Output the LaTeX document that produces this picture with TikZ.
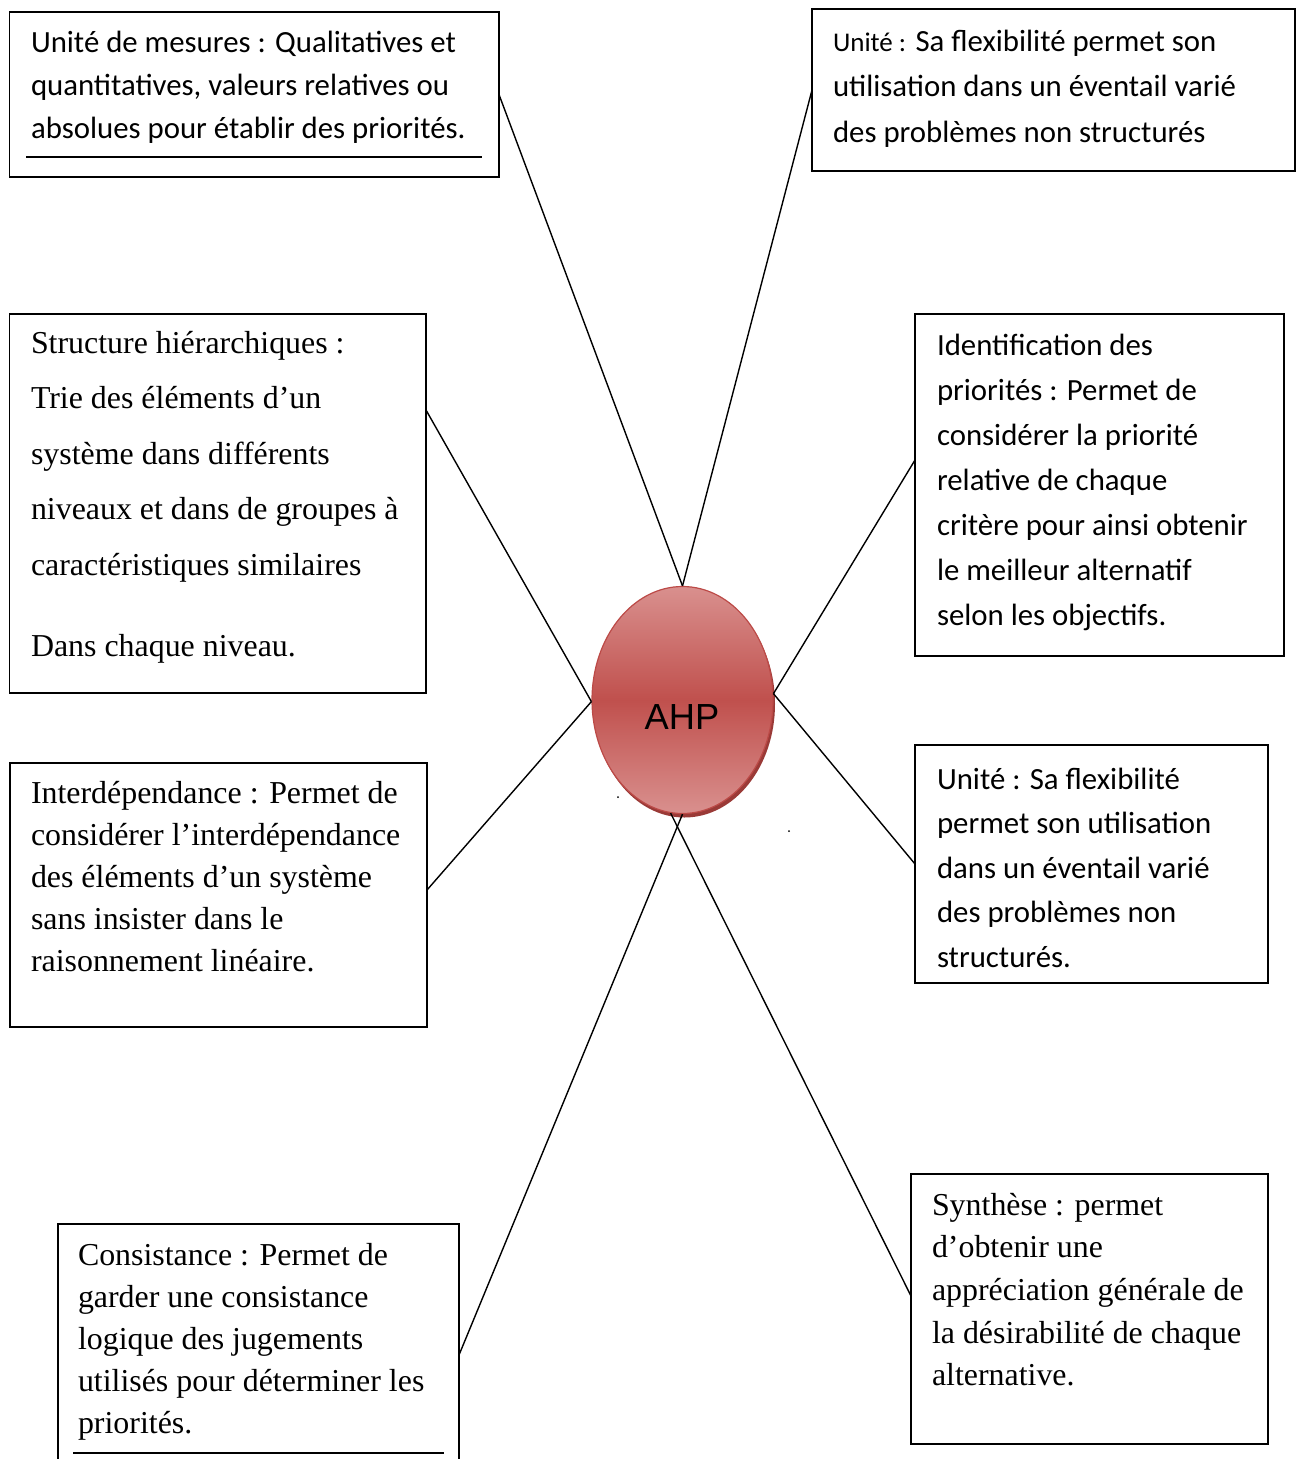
\documentclass[tikz,border=0pt]{standalone}
\usepackage{fontspec}
\setmainfont{Liberation Serif}
\newfontfamily\calib{Carlito}
\newfontfamily\arialf{Liberation Sans}
\usetikzlibrary{shapes.geometric}
\definecolor{hpTop}{HTML}{D9908E}
\definecolor{hpMid}{HTML}{C0504D}
\definecolor{hpEdge}{HTML}{BC4A47}
\definecolor{hpShadow}{HTML}{9A3A37}
\newcommand\mytext[3]{\parbox[t]{600pt}{\fontsize{30.8}{#2}\calib\selectfont\raggedright #3}}
\newcommand\mytimes[2]{\parbox[t]{600pt}{\fontsize{31.9}{#1}\selectfont\raggedright #2}}
\begin{document}
\begin{tikzpicture}[x=1pt,y=-1pt,
  box/.style={draw, line width=1.6pt, rectangle, inner sep=0pt, outer sep=0pt, anchor=north west},
  lbl/.style={inner sep=0pt, outer sep=0pt, anchor=base west},
  link/.style={line width=1.4pt},
  uline/.style={line width=1.6pt}]
\useasboundingbox (0,0) rectangle (1301,1459);
\fill[white] (0,0) rectangle (1301,1459);
\begin{scope}
\clip (0,0) rectangle (1301,1459);
% boxes
\node[box, minimum width=489.5, minimum height=165] (b1) at (9.5,12) {};
\node[box, minimum width=483, minimum height=162] (b2) at (812,9) {};
\node[box, minimum width=416.5, minimum height=379] (b3) at (9.5,314) {};
\node[box, minimum width=369, minimum height=342] (b4) at (915,314) {};
\node[box, minimum width=417, minimum height=264] (b5) at (10,763) {};
\node[box, minimum width=353, minimum height=238] (b6) at (915,745) {};
\node[box, minimum width=401, minimum height=280] (b7) at (58,1224) {};
\node[box, minimum width=357, minimum height=270] (b8) at (911,1174) {};
% texts
\node[lbl] (t1) at (31,52) {\mytext{}{43}{Unité de mesures : Qualitatives et\\quantitatives, valeurs relatives ou\\absolues pour établir des priorités.}};
\draw[uline] (26,157) -- (482,157);
\node[lbl] (t2) at (833,51) {\mytext{}{45.5}{{\fontsize{27}{45.5}\selectfont Unité :} Sa flexibilité permet son\\utilisation dans un éventail varié\\des problèmes non structurés}};
\node[lbl] (t3) at (31,353) {\mytimes{55.5}{Structure hiérarchiques :\\Trie des éléments d’un\\système dans différents\\niveaux et dans de groupes à\\caractéristiques similaires\\[25.5pt]Dans chaque niveau.}};
\node[lbl] (t4) at (937,355) {\mytext{}{45}{Identification des\\priorités : Permet de\\considérer la priorité\\relative de chaque\\critère pour ainsi obtenir\\le meilleur alternatif\\selon les objectifs.}};
\node[lbl] (t5) at (31,803) {\mytimes{42.2}{Interdépendance : Permet de\\considérer l’interdépendance\\des éléments d’un système\\sans insister dans le\\raisonnement linéaire.}};
\node[lbl] (t6) at (937,789) {\mytext{}{44.5}{Unité : Sa flexibilité\\permet son utilisation\\dans un éventail varié\\des problèmes non\\structurés.}};
\node[lbl] (t7) at (78,1265) {\mytimes{42}{Consistance : Permet de\\garder une consistance\\logique des jugements\\utilisés pour déterminer les\\priorités.}};
\draw[uline] (73,1453) -- (444,1453);
\node[lbl] (t8) at (932,1215) {\mytimes{42.7}{Synthèse : permet\\d’obtenir une\\appréciation générale de\\la désirabilité de chaque\\alternative.}};
% central ellipse
\node[ellipse, minimum width=181, minimum height=227, inner sep=0pt, fill=hpShadow] (ahpsh) at (684.5,704) {};
\node[ellipse, minimum width=181, minimum height=227, inner sep=0pt, top color=hpTop, bottom color=hpTop, middle color=hpMid, draw=hpEdge, line width=1.2pt] (ahp) at (682.5,700) {};
\node[inner sep=0pt, anchor=base, font=\arialf\fontsize{36.3}{40}\selectfont] (ahplbl) at (682,729) {AHP};
% connectors
\draw[link] (b1.east) -- (ahp.north);
\draw[link] (b2.west) -- (ahp.north);
\draw[link] ([yshift=93.5pt]b3.east) -- (ahp.181);
\draw[link] ([yshift=25pt]b4.west) -- (ahp.4);
\draw[link] ([yshift=5pt]b5.east) -- (ahp.181);
\draw[link] (b6.west) -- (ahp.4);
\draw[link] ([yshift=9pt]b7.east) -- (ahp.south);
\draw[link] ([yshift=13pt]b8.west) -- (ahp.264);
% stray dots
\fill (618,797) circle (1);
\fill (789,831) circle (1);
\end{scope}
\end{tikzpicture}
\end{document}
